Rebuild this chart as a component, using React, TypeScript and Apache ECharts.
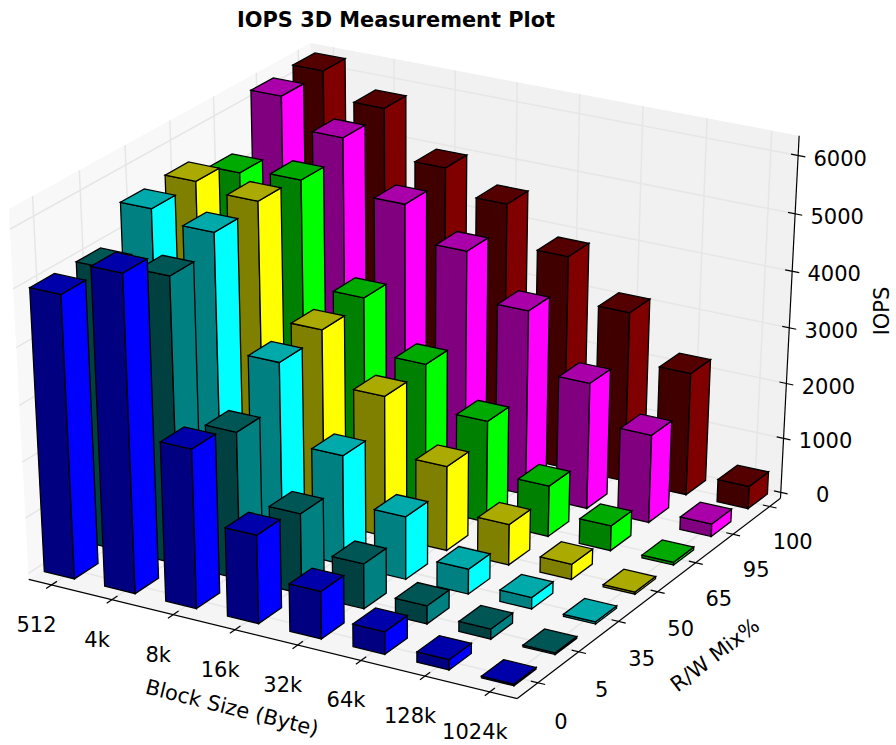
import React, { useEffect, useRef } from "react";
import * as echarts from "echarts";

const blockSizes = ["512", "4k", "8k", "16k", "32k", "64k", "128k", "1024k"];
const rwMixes = ["0", "5", "35", "50", "65", "95", "100"];
const iopsTicks = [0, 1000, 2000, 3000, 4000, 5000, 6000];
const rw0 = [4994, 5580, 2828, 1579, 848, 404, 183, 30];
const rw5 = [4980, 5080, 2626, 1440, 808, 325, 181, 30];
const rw35 = [5553, 5373, 3363, 1966, 1131, 450, 207, 40];
const rw50 = [5587, 5465, 3463, 2529, 1524, 734, 277, 40];
const rw65 = [5305, 5397, 3565, 2619, 1840, 920, 453, 50];
const rw95 = [6213, 5703, 4763, 4162, 3338, 2283, 1593, 230];
const rw100 = [6245, 5800, 4970, 4550, 3845, 3076, 2220, 410];
const rows = [rw0, rw5, rw35, rw50, rw65, rw95, rw100];
const rowColors = [[0, 0, 255], [0, 128, 128], [0, 255, 255], [255, 255, 0], [0, 255, 0], [255, 0, 255], [128, 0, 0]];

const xLim = [-0.38, 7.42];
const yLim = [-0.5, 6.3];
const zLim = [-110, 6335];
const barX = -0.22, barW = 0.5, barY = -0.36, barD = 0.53;
const FONT = '"DejaVu Sans", sans-serif';

type V = number[];
const dot = (a: V, b: V) => a[0] * b[0] + a[1] * b[1] + a[2] * b[2];
const cross = (a: V, b: V) => [a[1] * b[2] - a[2] * b[1], a[2] * b[0] - a[0] * b[2], a[0] * b[1] - a[1] * b[0]];
const norm = (a: V) => { const l = Math.sqrt(dot(a, a)); return a.map((c) => c / l); };
const elev = (30 * Math.PI) / 180, azim = (-60 * Math.PI) / 180, dist = 10;
const nV = [Math.cos(azim) * Math.cos(elev), Math.sin(azim) * Math.cos(elev), Math.sin(elev)];
const eye = nV.map((c) => 0.5 + dist * c);
const uV = norm(cross([0, 0, 1], nV));
const vV = cross(nV, uV);
function raw(p: V): V {
  const d = [p[0] - eye[0], p[1] - eye[1], p[2] - eye[2]];
  const w = -dot(nV, d);
  return [dot(uV, d) / w, dot(vV, d) / w];
}
// calibration of the unit cube's corners against the page
const anchors: [V, V][] = [
  [[0, 0, 0], [29, 579]], [[1, 0, 0], [518, 699]], [[1, 1, 0], [780, 498]],
  [[0, 0, 1], [8, 209]], [[1, 1, 1], [799, 136]], [[0, 1, 1], [311, 43]],
];
function fit(k: number) {
  let sx = 0, sy = 0, sxx = 0, sxy = 0; const n = anchors.length;
  anchors.forEach(([p, s]) => { const r = raw(p)[k]; sx += r; sy += s[k]; sxx += r * r; sxy += r * s[k]; });
  const a = (n * sxy - sx * sy) / (n * sxx - sx * sx);
  return [a, (sy - a * sx) / n];
}
const fx = fit(0), fy = fit(1);
function proj(x: number, y: number, z: number): number[] {
  const p = [(x - xLim[0]) / (xLim[1] - xLim[0]), (y - yLim[0]) / (yLim[1] - yLim[0]), (z - zLim[0]) / (zLim[1] - zLim[0])];
  const r = raw(p);
  return [fx[0] * r[0] + fx[1], fy[0] * r[1] + fy[1]];
}
const poly = (points: number[][], fill: string, stroke = "none", lineWidth = 0) => ({
  type: "polygon", shape: { points }, style: { fill, stroke, lineWidth },
});
const seg = (a: number[], b: number[], stroke: string, lineWidth: number) => ({
  type: "line", shape: { x1: a[0], y1: a[1], x2: b[0], y2: b[1] }, style: { stroke, lineWidth, fill: "none" },
});
const shade = (c: number[], f: number) => `rgb(${c.map((v) => Math.round(v * f)).join(",")})`;

function renderBox() {
  const [x0, x1] = xLim, [y0, y1] = yLim, [z0, z1] = zLim;
  const G = "#e6e6e6", GW = 1.5;
  const ch: any[] = [];
  ch.push(poly([proj(x0, y0, z0), proj(x0, y1, z0), proj(x0, y1, z1), proj(x0, y0, z1)], "#f8f8f8"));
  ch.push(poly([proj(x0, y1, z0), proj(x1, y1, z0), proj(x1, y1, z1), proj(x0, y1, z1)], "#f1f1f1"));
  ch.push(poly([proj(x0, y0, z0), proj(x1, y0, z0), proj(x1, y1, z0), proj(x0, y1, z0)], "#f5f5f5"));
  blockSizes.forEach((_, i) => {
    ch.push(seg(proj(i, y0, z0), proj(i, y1, z0), G, GW));
    ch.push(seg(proj(i, y1, z0), proj(i, y1, z1), G, GW));
  });
  rwMixes.forEach((_, j) => {
    ch.push(seg(proj(x1, j, z0), proj(x0, j, z0), G, GW));
    ch.push(seg(proj(x0, j, z0), proj(x0, j, z1), G, GW));
  });
  iopsTicks.forEach((t) => {
    ch.push(seg(proj(x0, y0, t), proj(x0, y1, t), G, GW));
    ch.push(seg(proj(x0, y1, t), proj(x1, y1, t), G, GW));
  });
  const K = "#000", W = 1.2;
  ch.push(seg(proj(x0, y0, z0), proj(x1, y0, z0), K, W));
  ch.push(seg(proj(x1, y0, z0), proj(x1, y1, z0), K, W));
  ch.push(seg(proj(x1, y1, z0), proj(x1, y1, z1), K, W));
  blockSizes.forEach((_, i) => ch.push(seg(proj(i, y0 - 0.12, z0), proj(i, y0 + 0.12, z0), K, W)));
  rwMixes.forEach((_, j) => ch.push(seg(proj(x1 - 0.11, j, z0), proj(x1 + 0.11, j, z0), K, W)));
  iopsTicks.forEach((t) => ch.push(seg(proj(x1 - 0.11, y1, t), proj(x1 + 0.11, y1, t), K, W)));
  return { type: "group", children: ch };
}

function barSeries(r: number) {
  const c = rowColors[r];
  const y0 = r + barY, y1 = y0 + barD;
  return {
    type: "custom", coordinateSystem: "none", silent: true, clip: false,
    data: rows[r].map((v, i) => [i, v]),
    renderItem: (_: any, api: any) => {
      const i = api.value(0), v = api.value(1);
      const x0 = i + barX, x1 = x0 + barW;
      const s = { stroke: "#000", lw: 1.3 };
      return {
        type: "group",
        children: [
          poly([proj(x0, y0, 0), proj(x1, y0, 0), proj(x1, y0, v), proj(x0, y0, v)], shade(c, 0.5), s.stroke, s.lw),
          poly([proj(x1, y0, 0), proj(x1, y1, 0), proj(x1, y1, v), proj(x1, y0, v)], shade(c, 1), s.stroke, s.lw),
          poly([proj(x0, y0, v), proj(x1, y0, v), proj(x1, y1, v), proj(x0, y1, v)], shade(c, 0.667), s.stroke, s.lw),
        ],
      };
    },
  };
}

const label = (text: string, x: number, y: number, rotation = 0, size = 21) => ({
  type: "text", x, y, rotation,
  style: { text, x: 0, y: 0, font: `${size}px ${FONT}`, fill: "#000", align: "center", verticalAlign: "middle" },
});

function textSeries(items: string[], place: (i: number) => number[]) {
  return {
    type: "custom", coordinateSystem: "none", silent: true, clip: false,
    data: items.map((_, i) => [i]),
    renderItem: (_: any, api: any) => {
      const i = api.value(0);
      const p = place(i);
      return label(items[i], p[0], p[1]);
    },
  };
}

function option() {
  const deg = Math.PI / 180;
  return {
    animation: false,
    backgroundColor: "#fff",
    title: {
      text: "IOPS 3D Measurement Plot", left: 391, top: 3, textAlign: "center",
      textStyle: { fontFamily: FONT, fontWeight: "bold", fontSize: 20.9, color: "#000", lineHeight: 24 },
    },
    series: [
      { type: "custom", coordinateSystem: "none", silent: true, clip: false, data: [[0]], renderItem: () => renderBox() },
      ...[6, 5, 4, 3, 2, 1, 0].map(barSeries),
      textSeries(blockSizes, (i) => { const p = proj(i, yLim[0], zLim[0]); return [p[0] - 15, p[1] + 40]; }),
      textSeries(rwMixes, (j) => { const p = proj(xLim[1], j, zLim[0]); return [p[0] + 23, p[1] + 39 - (j * 4) / 6]; }),
      textSeries(iopsTicks.map(String), (k) => { const p = proj(xLim[1], yLim[1], iopsTicks[k]); return [p[0] + 42, p[1] + 3]; }),
      {
        type: "custom", coordinateSystem: "none", silent: true, clip: false, data: [[0]],
        renderItem: () => ({
          type: "group",
          children: [
            label("Block Size (Byte)", 232, 708, -14 * deg),
            label("R/W Mix%", 715, 655, 37.5 * deg),
            label("IOPS", 882, 311, 90 * deg),
          ],
        }),
      },
    ],
  };
}

export default function App() {
  const ref = useRef<HTMLDivElement>(null);
  useEffect(() => {
    const chart = echarts.init(ref.current!, undefined, { renderer: "svg" });
    chart.setOption(option() as any);
    return () => chart.dispose();
  }, []);
  return <div ref={ref} style={{ position: "fixed", left: 0, top: 0, width: 896, height: 745 }} />;
}
